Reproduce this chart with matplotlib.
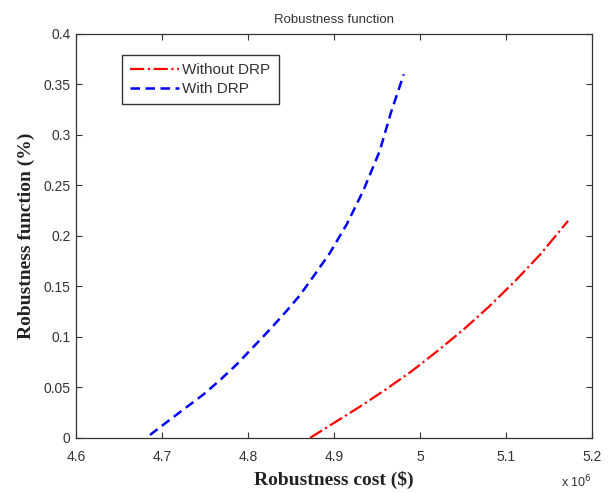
import matplotlib
matplotlib.use('Agg')
import matplotlib.pyplot as plt

# Robustness cost values are in millions of dollars (axis shows "x 10^6")
cost_with_drp = [4.686, 4.709, 4.748, 4.767, 4.787, 4.806, 4.826, 4.845,
                 4.860, 4.876, 4.895, 4.915, 4.934, 4.953, 4.966, 4.981]
robust_with_drp = [0.003, 0.018, 0.043, 0.057, 0.073, 0.090, 0.108, 0.126,
                   0.141, 0.160, 0.183, 0.212, 0.245, 0.284, 0.322, 0.360]

cost_without_drp = [4.872, 4.900, 4.930, 4.960, 4.990, 5.020, 5.050, 5.080,
                    5.110, 5.140, 5.172]
robust_without_drp = [0.000, 0.015, 0.031, 0.048, 0.066, 0.086, 0.107, 0.130,
                      0.155, 0.182, 0.215]

x_ticks = [4.6, 4.7, 4.8, 4.9, 5.0, 5.1, 5.2]
x_tick_labels = ['4.6', '4.7', '4.8', '4.9', '5', '5.1', '5.2']
y_ticks = [0, 0.05, 0.1, 0.15, 0.2, 0.25, 0.3, 0.35, 0.4]
y_tick_labels = ['0', '0.05', '0.1', '0.15', '0.2', '0.25', '0.3', '0.35', '0.4']

sans = ['Liberation Sans', 'DejaVu Sans']
serif = ['Liberation Serif', 'DejaVu Serif']

fig = plt.figure(figsize=(6.13, 4.93), dpi=100)
ax = fig.add_axes([0.124, 0.1116, 0.842, 0.8195])

ax.plot(cost_without_drp, robust_without_drp, color='red', linestyle='-.',
        linewidth=1.6, label='Without DRP')
ax.plot(cost_with_drp, robust_with_drp, color='blue', linestyle='--',
        linewidth=1.8, dashes=(3.8, 2.2), label='With DRP')

ax.set_xlim(4.6, 5.2)
ax.set_ylim(0, 0.4)
ax.set_xticks(x_ticks)
ax.set_xticklabels(x_tick_labels, family=sans, fontsize=10, color='#333333')
ax.set_yticks(y_ticks)
ax.set_yticklabels(y_tick_labels, family=sans, fontsize=10, color='#333333')
ax.tick_params(direction='in', top=True, right=True, length=4, width=0.8,
               color='#333333')
ax.tick_params(axis='x', pad=9)
ax.tick_params(axis='y', pad=4)
for spine in ax.spines.values():
    spine.set_color('#333333')
    spine.set_linewidth(0.9)

ax.set_title('Robustness function', family=sans, fontsize=9.5,
             color='#333333', pad=8)
ax.set_xlabel('Robustness cost ($)', family=serif, fontsize=14,
              fontweight='bold', color='#222222', labelpad=5)
ax.set_ylabel('Robustness function (%)', family=serif, fontsize=14,
              fontweight='bold', color='#222222', labelpad=6)

ax.text(1.0, -0.109, 'x 10$^6$', transform=ax.transAxes, ha='right',
        va='center', family=sans, fontsize=9, color='#333333')

leg = ax.legend(loc='upper left', bbox_to_anchor=(0.0886, 0.948),
                prop={'family': sans, 'size': 11}, fancybox=False,
                edgecolor='#333333', framealpha=1, handlelength=3.2,
                borderpad=0.55, labelspacing=0.3, handletextpad=0.2,
                borderaxespad=0)
leg.get_frame().set_linewidth(1.0)
for t in leg.get_texts():
    t.set_color('#333333')

fig.savefig('out.png', dpi=100)
